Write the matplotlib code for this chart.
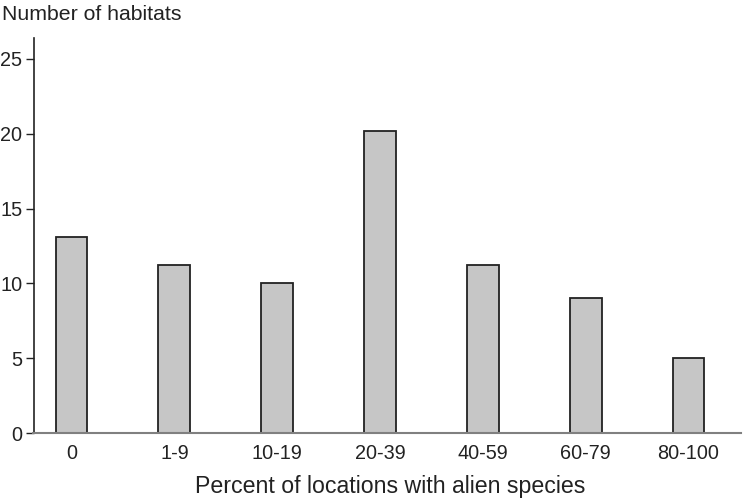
import matplotlib
matplotlib.use("Agg")
import matplotlib.pyplot as plt
import numpy as np

plt.rcParams["font.family"] = ["Liberation Sans", "DejaVu Sans"]

categories = ["0", "1-9", "10-19", "20-39", "40-59", "60-79", "80-100"]
habitats = [13.1, 11.2, 10.0, 20.2, 11.2, 9.0, 5.0]

W, H = 744, 500
fig = plt.figure(figsize=(W / 100, H / 100), dpi=100)
ax = fig.add_axes([33.5 / W, 1 - 433.3 / H, (741 - 33.5) / W, (433.3 - 37.7) / H])

x = np.arange(len(categories))
ax.bar(x, habitats, width=0.31, color="#c6c6c6", edgecolor="#222222", linewidth=1.3, zorder=2)

ax.set_xlim(-0.37, 6.51)
ax.set_ylim(0, 26.4)
ax.set_yticks([0, 5, 10, 15, 20, 25])
ax.set_xticks(x)
ax.set_xticklabels(categories)
ax.tick_params(axis="x", length=0, pad=8, labelsize=14.3, colors="#222222")
ax.tick_params(axis="y", length=6, width=1, pad=2, labelsize=14.3, colors="#222222")

for s in ["top", "right"]:
    ax.spines[s].set_visible(False)
ax.spines["left"].set_color("#222222")
ax.spines["left"].set_linewidth(1.2)
ax.spines["bottom"].set_color("#808080")
ax.spines["bottom"].set_linewidth(1.5)

fig.text(2 / W, 1 - 15 / H, "Number of habitats", fontsize=15.3, color="#222222",
         ha="left", va="center")
fig.text(390 / W, 1 - 493 / H, "Percent of locations with alien species",
         fontsize=16.7, color="#222222", ha="center", va="baseline")

fig.savefig("out.png", dpi=100)
